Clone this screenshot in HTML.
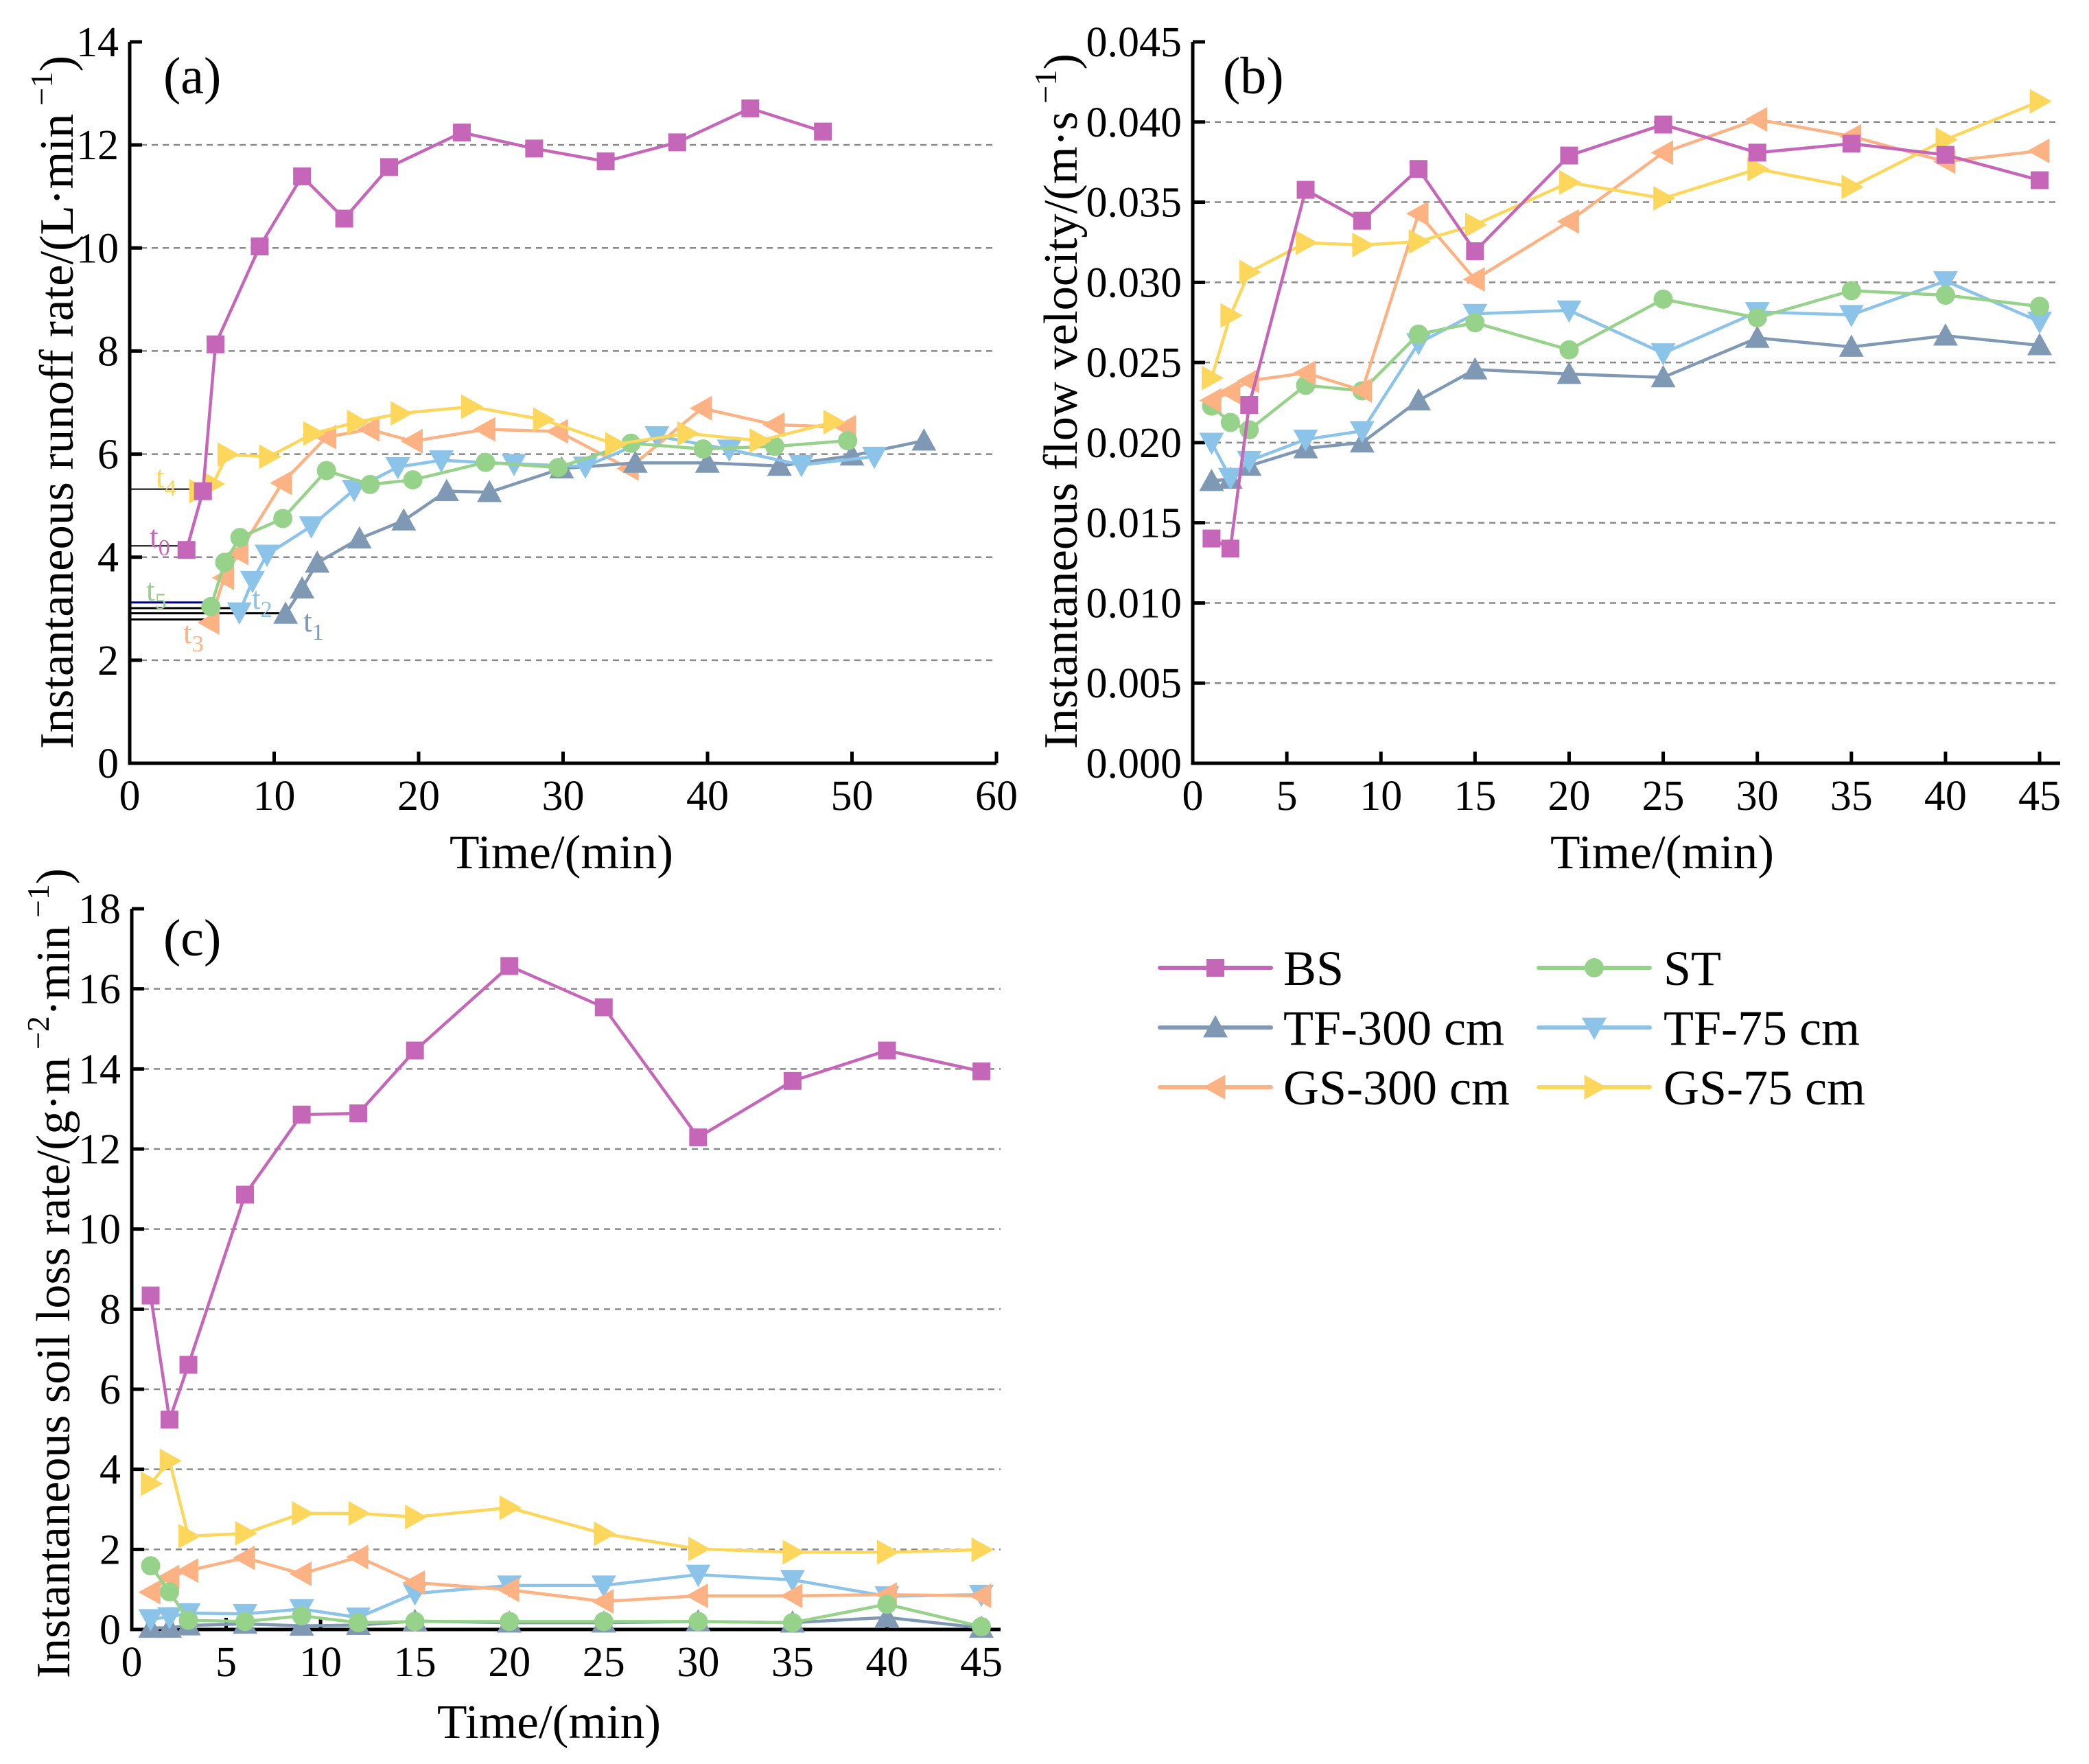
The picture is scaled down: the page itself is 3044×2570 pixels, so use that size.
<!DOCTYPE html>
<html><head><meta charset="utf-8">
<style>
html,body{margin:0;padding:0;background:#fff;}
svg{display:block;font-family:"Liberation Serif","Times New Roman",serif;}
</style></head>
<body>
<svg id="fig" width="3044" height="2570" viewBox="0 0 3044 2570" xmlns="http://www.w3.org/2000/svg">
<rect x="0" y="0" width="3044" height="2570" fill="#fff"/>
</svg>
<script>
// ---------- data ----------
const seriesNames = ["BS","TF-300 cm","ST","TF-75 cm","GS-300 cm","GS-75 cm"];
const seriesColors = ["#c666b8","#7f99b5","#96d28a","#8cc3e8","#fdb283","#fdd75c"];
const seriesMarkers = ["square","up","circle","down","left","right"];
// legend layout: [series index] per column
const legendCol1 = [0,1,4];
const legendCol2 = [2,3,5];

// Panel (a) runoff rate: x times differ by series
const aBS_x = [3.93,5.07,5.94,9.0,11.93,14.85,17.96,22.99,28.0,32.95,37.9,42.96,47.99];
const aBS_y = [4.14,5.28,8.13,10.03,11.39,10.57,11.57,12.24,11.93,11.68,12.05,12.71,12.26];
const aTF300_x = [10.79,11.93,12.98,15.9,18.97,21.94,24.9,29.9,35.0,39.99,44.98,50.0,54.98];
const aTF300_y = [2.9,3.39,3.89,4.36,4.71,5.28,5.26,5.72,5.83,5.83,5.77,5.97,6.26];
const aST_x = [5.62,6.58,7.63,10.6,13.62,16.64,19.6,24.63,29.66,34.7,39.7,44.65,49.7];
const aST_y = [3.04,3.9,4.38,4.75,5.68,5.41,5.5,5.84,5.74,6.21,6.1,6.15,6.26];
const aTF75_x = [7.59,8.5,9.5,12.57,15.54,18.56,21.57,26.6,31.54,36.5,41.5,46.5,51.55];
const aTF75_y = [2.93,3.54,4.05,4.6,5.31,5.75,5.88,5.81,5.76,6.35,6.09,5.79,5.95];
const aGS300_x = [5.53,6.54,7.54,10.56,13.62,16.6,19.6,24.63,29.66,34.55,39.62,44.65,49.6];
const aGS300_y = [2.73,3.6,4.08,5.44,6.33,6.48,6.25,6.48,6.44,5.72,6.89,6.57,6.52];
const aGS75_x = [4.8,5.76,6.76,9.64,12.7,15.72,18.74,23.63,28.6,33.6,38.6,43.6,48.7];
const aGS75_y = [5.28,5.42,5.99,5.95,6.4,6.62,6.79,6.92,6.67,6.19,6.4,6.26,6.62];
const aXTicks = [0,10,20,30,40,50,60];
const aYTicks = [0,2,4,6,8,10,12,14];
// t markers in panel (a)
const tLabels = ["t","t","t","t","t","t"];
const tSubs = ["4","0","5","2","1","3"];
const tLevels = [5.32,4.22,3.12,3.01,2.91,2.79];
const tEnds = [4.22,3.88,5.35,7.3,11.0,5.3];
const tColors = ["#fdd75c","#c666b8","#96d28a","#8cc3e8","#7f99b5","#fdb283"];
const tLineColors = ["#000","#000","#00007f","#000","#000","#000"];

// Panel (b) flow velocity
const bTimes = [1,2,3,6,9,12,15,20,25,30,35,40,45];
const bBS = [0.01402,0.01339,0.02235,0.03577,0.03384,0.03707,0.03194,0.03791,0.03984,0.03809,0.03865,0.03795,0.03637];
const bTF300 = [0.0176,0.01774,0.01855,0.01964,0.02,0.02263,0.02456,0.02428,0.02407,0.02653,0.02597,0.02667,0.02607];
const bST = [0.02228,0.02126,0.0208,0.02358,0.02323,0.02677,0.02748,0.02579,0.02895,0.02779,0.02948,0.0292,0.0285];
const bTF75 = [0.02,0.01781,0.01887,0.0202,0.02073,0.02621,0.02804,0.02825,0.02558,0.02815,0.02797,0.03008,0.02755];
const bGS300 = [0.02263,0.02316,0.02386,0.02435,0.02326,0.03429,0.03018,0.0338,0.03809,0.04016,0.03911,0.03753,0.0382];
const bGS75 = [0.02403,0.02793,0.03064,0.03247,0.03233,0.03254,0.03359,0.03623,0.03524,0.03707,0.03595,0.0389,0.04129];
const bXTicks = [0,5,10,15,20,25,30,35,40,45];
const bYTicks = [0,0.005,0.01,0.015,0.02,0.025,0.03,0.035,0.04,0.045];

// Panel (c) soil loss rate
const cTimes = [1,2,3,6,9,12,15,20,25,30,35,40,45];
const cBS = [8.34,5.24,6.61,10.86,12.86,12.89,14.46,16.57,15.54,12.29,13.7,14.46,13.94];
const cTF300 = [0.04,0.04,0.1,0.14,0.09,0.11,0.21,0.17,0.17,0.2,0.17,0.3,0.04];
const cST = [1.59,0.94,0.23,0.2,0.34,0.17,0.2,0.2,0.2,0.2,0.17,0.63,0.07];
const cTF75 = [0.26,0.31,0.41,0.39,0.51,0.3,0.9,1.1,1.1,1.37,1.24,0.83,0.87];
const cGS300 = [0.93,1.31,1.47,1.79,1.39,1.81,1.17,0.99,0.7,0.84,0.84,0.87,0.84];
const cGS75 = [3.64,4.21,2.33,2.4,2.9,2.9,2.81,3.04,2.39,2.01,1.93,1.93,1.99];
const cXTicks = [0,5,10,15,20,25,30,35,40,45];
const cYTicks = [0,2,4,6,8,10,12,14,16,18];

// ---------- drawing ----------
const NS = "http://www.w3.org/2000/svg";
const svg = document.getElementById("fig");
function mk(tag, attrs, parent){
  const e = document.createElementNS(NS, tag);
  for (const k in attrs) e.setAttribute(k, attrs[k]);
  (parent||svg).appendChild(e);
  return e;
}
function marker(g, type, x, y, color){
  const r = 13; let e;
  if (type==="square") e = mk("rect",{x:x-r,y:y-r,width:2*r,height:2*r,fill:color},g);
  else if (type==="circle") e = mk("circle",{cx:x,cy:y,r:r+1,fill:color},g);
  else {
    const s = 18; let p;
    if (type==="up") p=[[x,y-s],[x+s,y+s*0.8],[x-s,y+s*0.8]];
    if (type==="down") p=[[x,y+s],[x+s,y-s*0.8],[x-s,y-s*0.8]];
    if (type==="left") p=[[x-s,y],[x+s*0.8,y-s],[x+s*0.8,y+s]];
    if (type==="right") p=[[x+s,y],[x-s*0.8,y-s],[x-s*0.8,y+s]];
    e = mk("polygon",{points:p.map(q=>q.join(",")).join(" "),fill:color},g);
  }
  
  
  return e;
}
function makeAxes(cfg){
  const g = mk("g",{});
  
  
  const sx = v => cfg.x0 + (v - cfg.xmin)/(cfg.xmax - cfg.xmin)*(cfg.x1 - cfg.x0);
  const sy = v => cfg.y0 - (v - cfg.ymin)/(cfg.ymax - cfg.ymin)*(cfg.y0 - cfg.y1);
  cfg.yTicks.forEach((t,i)=>{
    if (i===0 || i===cfg.yTicks.length-1) return;
    const l = mk("line",{x1:cfg.x0,x2:cfg.xEnd,y1:sy(t),y2:sy(t),stroke:"#8a8a8a","stroke-width":2.5,"stroke-dasharray":"9,7"},g);
    
    
  });
  const ax = mk("line",{x1:cfg.x0,x2:cfg.xEnd,y1:cfg.y0,y2:cfg.y0,stroke:"#000","stroke-width":5},g);
  
  
  const ay = mk("line",{x1:cfg.x0,x2:cfg.x0,y1:cfg.y0+2.5,y2:cfg.y1,stroke:"#000","stroke-width":5},g);
  
  
  cfg.xTicks.forEach(t=>{
    const X = sx(t);
    mk("line",{x1:X,x2:X,y1:cfg.y0,y2:cfg.y0-17,stroke:"#000","stroke-width":5},g);
    const tx = mk("text",{x:X,y:cfg.y0+68,"font-size":62,"text-anchor":"middle",fill:"#000"},g);
    tx.textContent = String(t);
    
    
  });
  cfg.yTicks.forEach(t=>{
    const Y = sy(t);
    mk("line",{x1:cfg.x0,x2:cfg.x0+18,y1:Y,y2:Y,stroke:"#000","stroke-width":5},g);
    const ty = mk("text",{x:cfg.x0-16,y:Y+21,"font-size":62,"text-anchor":"end",fill:"#000"},g);
    ty.textContent = cfg.fmt ? cfg.fmt(t) : String(t);
    
    
  });
  return {g, sx, sy};
}
function drawSeries(ax, xs, ys, idx){
  const g = mk("g",{},ax.g);
  
  
  const pts = xs.map((x,i)=>ax.sx(x)+","+ax.sy(ys[i])).join(" ");
  const pl = mk("polyline",{points:pts,fill:"none",stroke:seriesColors[idx],"stroke-width":4.5,"stroke-linejoin":"round"},g);
  
  
  xs.forEach((x,i)=>marker(g, seriesMarkers[idx], ax.sx(x), ax.sy(ys[i]), seriesColors[idx]));
}

// Panel a
const A = makeAxes({name:"panel-a",x0:189,x1:1452,xEnd:1452,y0:1112,y1:61,xmin:0,xmax:60,ymin:0,ymax:14,xTicks:aXTicks,yTicks:aYTicks});
tLevels.forEach((lv,i)=>{
  const l = mk("line",{x1:A.sx(0)+2,x2:A.sx(tEnds[i]),y1:A.sy(lv),y2:A.sy(lv),stroke:tLineColors[i],"stroke-width":i<2?2:3},A.g);
  
  
});
const tPos = [[227,710],[218,797],[213,875],[367,887],[442,920],[267,937]];
tPos.forEach((p,i)=>{
  const t = mk("text",{x:p[0],y:p[1],"font-size":46,fill:tColors[i]},A.g);
  t.textContent = tLabels[i];
  const s = mk("tspan",{dy:12,"font-size":34},t);
  s.textContent = tSubs[i];
  
  
});
drawSeries(A, aGS300_x, aGS300_y, 4);
drawSeries(A, aTF300_x, aTF300_y, 1);
drawSeries(A, aTF75_x, aTF75_y, 3);
drawSeries(A, aST_x, aST_y, 2);
drawSeries(A, aGS75_x, aGS75_y, 5);
drawSeries(A, aBS_x, aBS_y, 0);

// Panel b
const B = makeAxes({name:"panel-b",x0:1738,x1:2972,xEnd:3002,y0:1112,y1:61,xmin:0,xmax:45,ymin:0,ymax:0.045,xTicks:bXTicks,yTicks:bYTicks,fmt:v=>v.toFixed(3)});
drawSeries(B, bTimes, bTF300, 1);
drawSeries(B, bTimes, bTF75, 3);
drawSeries(B, bTimes, bST, 2);
drawSeries(B, bTimes, bGS300, 4);
drawSeries(B, bTimes, bGS75, 5);
drawSeries(B, bTimes, bBS, 0);

// Panel c
const C = makeAxes({name:"panel-c",x0:192,x1:1430,xEnd:1458,y0:2374,y1:1324,xmin:0,xmax:45,ymin:0,ymax:18,xTicks:cXTicks,yTicks:cYTicks});
drawSeries(C, cTimes, cTF300, 1);
drawSeries(C, cTimes, cTF75, 3);
drawSeries(C, cTimes, cGS300, 4);
drawSeries(C, cTimes, cST, 2);
drawSeries(C, cTimes, cGS75, 5);
drawSeries(C, cTimes, cBS, 0);

// Legend
const legX = [[1690,1852,1870],[2242,2404,2424]];
const legY = [1410,1497,1584];
const lg = mk("g",{});


[legendCol1, legendCol2].forEach((col,c)=>{
  col.forEach((i,row)=>{
    const [xa,xb,xt] = legX[c];
    const y = legY[row];
    const eg = mk("g",{},lg);
    
    
    mk("line",{x1:xa,x2:xb,y1:y,y2:y,stroke:seriesColors[i],"stroke-width":6,"stroke-linecap":"round"},eg);
    marker(eg, seriesMarkers[i], (xa+xb)/2, y, seriesColors[i]);
    const t = mk("text",{x:xt,y:y+25,"font-size":72,fill:"#000"},eg);
    t.textContent = seriesNames[i];
  });
});
</script>
<svg style="position:absolute;left:0;top:0" width="3044" height="2570" xmlns="http://www.w3.org/2000/svg" font-family="Liberation Serif, serif">
  <text x="238" y="136" font-size="76">(a)</text>
  <text x="1782" y="136" font-size="76">(b)</text>
  <text x="238" y="1392" font-size="76">(c)</text>
  <text x="818" y="1265" font-size="70" text-anchor="middle" textLength="326" lengthAdjust="spacingAndGlyphs">Time/(min)</text>
  <text x="2422" y="1265" font-size="70" text-anchor="middle" textLength="326" lengthAdjust="spacingAndGlyphs">Time/(min)</text>
  <text x="800" y="2532" font-size="70" text-anchor="middle" textLength="326" lengthAdjust="spacingAndGlyphs">Time/(min)</text>
  <text transform="translate(106,1091) rotate(-90)" font-size="70" textLength="1010" lengthAdjust="spacingAndGlyphs">Instantaneous runoff rate/(L·min<tspan dy="-30" font-size="46"> −1</tspan><tspan dy="30">)</tspan></text>
  <text transform="translate(1569,1091) rotate(-90)" font-size="70" textLength="1013" lengthAdjust="spacingAndGlyphs">Instantaneous flow velocity/(m·s<tspan dy="-30" font-size="46"> −1</tspan><tspan dy="30">)</tspan></text>
  <text transform="translate(101,2445) rotate(-90)" font-size="70" textLength="1180" lengthAdjust="spacingAndGlyphs">Instantaneous soil loss rate/(g·m<tspan dy="-30" font-size="46"> −2</tspan><tspan dy="30">·min</tspan><tspan dy="-30" font-size="46"> −1</tspan><tspan dy="30">)</tspan></text>
</svg>
</body></html>
